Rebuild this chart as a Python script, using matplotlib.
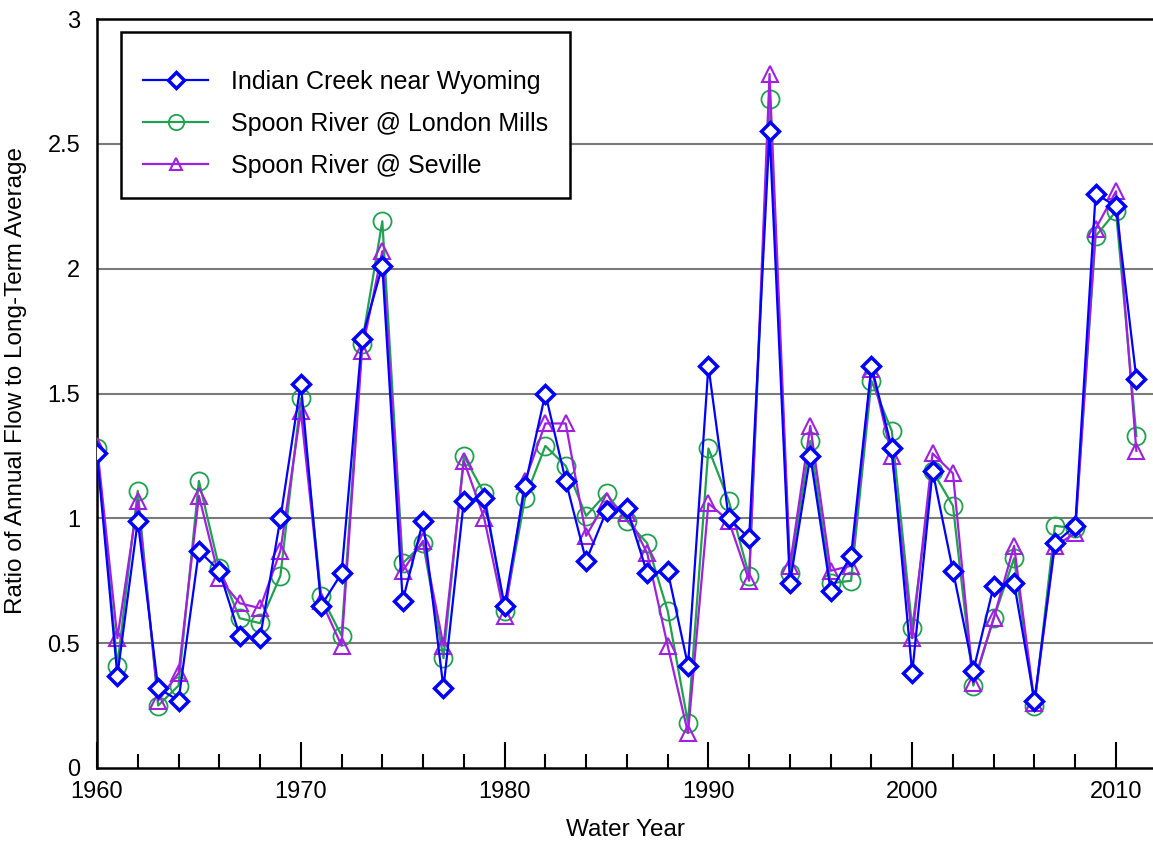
import matplotlib
matplotlib.use("Agg")
import matplotlib.pyplot as plt
from matplotlib.ticker import MultipleLocator
from matplotlib.patches import Rectangle

plt.rcParams['font.family'] = ['Liberation Sans', 'DejaVu Sans']

years = list(range(1960, 2012))

indian_creek = [1.26, 0.37, 0.99, 0.32, 0.27, 0.87, 0.79, 0.53, 0.52, 1.00,
                1.54, 0.65, 0.78, 1.72, 2.01, 0.67, 0.99, 0.32, 1.07, 1.08,
                0.65, 1.13, 1.50, 1.15, 0.83, 1.03, 1.04, 0.78, 0.79, 0.41,
                1.61, 1.00, 0.92, 2.55, 0.74, 1.25, 0.71, 0.85, 1.61, 1.28,
                0.38, 1.19, 0.79, 0.39, 0.73, 0.74, 0.27, 0.90, 0.97, 2.30,
                2.25, 1.56]

london_mills = [1.28, 0.41, 1.11, 0.25, 0.33, 1.15, 0.80, 0.60, 0.58, 0.77,
                1.48, 0.69, 0.53, 1.70, 2.19, 0.82, 0.90, 0.44, 1.25, 1.10,
                0.63, 1.08, 1.29, 1.21, 1.01, 1.10, 0.99, 0.90, 0.63, 0.18,
                1.28, 1.07, 0.77, 2.68, 0.78, 1.31, 0.74, 0.75, 1.55, 1.35,
                0.56, 1.19, 1.05, 0.33, 0.60, 0.84, 0.25, 0.97, 0.96, 2.13,
                2.23, 1.33]

seville = [1.29, 0.52, 1.07, 0.27, 0.38, 1.09, 0.76, 0.66, 0.64, 0.87,
           1.43, 0.67, 0.49, 1.67, 2.07, 0.79, 0.91, 0.49, 1.23, 1.00,
           0.61, 1.15, 1.38, 1.38, 0.93, 1.07, 1.02, 0.86, 0.49, 0.14,
           1.06, 0.99, 0.75, 2.78, 0.81, 1.37, 0.79, 0.81, 1.60, 1.25,
           0.52, 1.26, 1.18, 0.34, 0.60, 0.89, 0.26, 0.89, 0.94, 2.16,
           2.31, 1.27]

labels = ["Indian Creek near Wyoming", "Spoon River @ London Mills",
          "Spoon River @ Seville"]

c_blue = '#0000FF'
c_green = '#22A050'
c_purple = '#A020E0'

W, H = 1153, 844
fig = plt.figure(figsize=(W/100, H/100), dpi=100)
ax = fig.add_axes([97/W, 76/H, 1056/W, 749/H])

hg, = ax.plot(years, london_mills, color=c_green, lw=1.6, marker='o', ms=13,
              mfc='none', mec=c_green, mew=1.3, zorder=3)
hp, = ax.plot(years, seville, color=c_purple, lw=1.6, marker='^', ms=11,
              mfc='none', mec=c_purple, mew=1.5, zorder=4)
hb, = ax.plot(years, indian_creek, color=c_blue, lw=1.6, marker='D', ms=9,
              mfc='white', mec=c_blue, mew=2.5, zorder=5)

ax.set_xlim(1960, 1960 + 1056/20.38)
ax.set_ylim(0, 3)
ax.xaxis.set_major_locator(MultipleLocator(10))
ax.xaxis.set_minor_locator(MultipleLocator(2))
ax.set_yticks([0, 0.5, 1, 1.5, 2, 2.5, 3])
ax.set_yticklabels(["0", "0.5", "1", "1.5", "2", "2.5", "3"])

ax.tick_params(axis='both', which='major', direction='in', labelsize=17,
               width=1.5, color='black')
ax.tick_params(axis='x', which='major', length=19, pad=9)
ax.tick_params(axis='x', which='minor', direction='in', length=10, width=1.5)
ax.tick_params(axis='y', which='major', length=0, pad=12)

for y in [0.5, 1, 1.5, 2, 2.5]:
    ax.axhline(y, color='#7a7a7a', lw=1.5, zorder=1)

for s in ['left', 'bottom', 'top']:
    ax.spines[s].set_linewidth(1.8)
    ax.spines[s].set_color('black')
ax.spines['right'].set_visible(False)

ax.set_xlabel("Water Year", fontsize=17.5)
ax.xaxis.set_label_coords((625.5 - 97) / 1056, -(819 - 768) / 749)
ax.set_ylabel("Ratio of Annual Flow to Long-Term Average", fontsize=17.5)
ax.yaxis.set_label_coords((27 - 97) / 1056, (768 - 380) / 749)

# legend box frame (in figure pixel coordinates)
box_l, box_t, box_r, box_b = 121, 32, 570, 198
fig.patches.append(Rectangle((box_l / W, 1 - box_b / H),
                             (box_r - box_l) / W, (box_b - box_t) / H,
                             transform=fig.transFigure, fill=True,
                             facecolor='white', edgecolor='black', lw=1.8,
                             zorder=10))

leg = fig.legend([hb, hg, hp], labels, loc='upper left',
                 bbox_to_anchor=(143 / W, 1 - 70 / H), fontsize=18,
                 frameon=False, borderpad=0, labelspacing=0.72,
                 handlelength=2.6, handletextpad=0.92, borderaxespad=0)
leg.set_zorder(11)
for h in leg.legend_handles:
    h.set_markersize(h.get_markersize() * 0.85)

fig.savefig("out.png", dpi=100)
